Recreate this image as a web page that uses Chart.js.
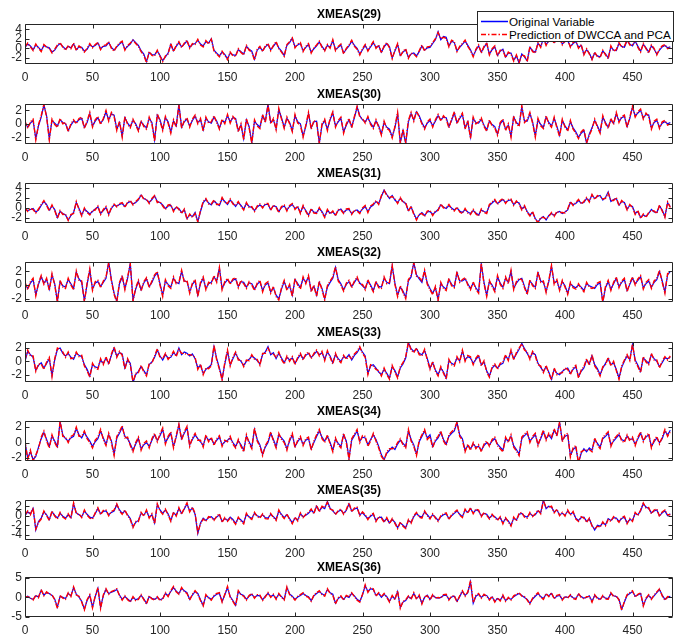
<!DOCTYPE html>
<html>
<head>
<meta charset="utf-8">
<script src="https://cdn.jsdelivr.net/npm/chart.js@4.4.1/dist/chart.umd.min.js"></script>
<style>
  body { margin: 0; background: #fff; width: 674px; height: 637px; overflow: hidden; position: relative; }
  .panel { position: absolute; left: 0; width: 674px; height: 84px; }
  #legend { position: absolute; left: 477px; top: 11px; width: 197px; height: 31px; box-sizing: border-box;
            background: #fff; border: 1px solid #262626; z-index: 5;
            font-family: "Liberation Sans", Arial, Helvetica, sans-serif; font-size: 11.7px; color: #000; }
  #legend svg { position: absolute; left: 0; top: 0; }
  #legend span { position: absolute; left: 31px; line-height: 13px; white-space: nowrap; }
</style>
</head>
<body>
<canvas class="panel" id="c0" width="674" height="84" style="top:0px"></canvas>
<canvas class="panel" id="c1" width="674" height="84" style="top:80px"></canvas>
<canvas class="panel" id="c2" width="674" height="84" style="top:159px"></canvas>
<canvas class="panel" id="c3" width="674" height="84" style="top:238px"></canvas>
<canvas class="panel" id="c4" width="674" height="84" style="top:318px"></canvas>
<canvas class="panel" id="c5" width="674" height="84" style="top:397px"></canvas>
<canvas class="panel" id="c6" width="674" height="84" style="top:476px"></canvas>
<canvas class="panel" id="c7" width="674" height="84" style="top:553px"></canvas>
<div id="legend">
  <svg width="197" height="31">
    <line x1="3" y1="9.5" x2="30" y2="9.5" stroke="#0000ff" stroke-width="1.5"/>
    <line x1="3" y1="22.5" x2="30" y2="22.5" stroke="#ff0000" stroke-width="1.5" stroke-dasharray="5 2 1.5 2"/>
  </svg>
  <span style="top:3px">Original Variable</span>
  <span style="top:16px">Prediction of DWCCA and PCA</span>
</div>
<script>
// samples read every 2 steps, x = 0, 2, 4, ... 478
const X_STEP = 2;
const X_MAX = 480;
const xTickValues = [0, 50, 100, 150, 200, 250, 300, 350, 400, 450];

const seriesNames = ["Original Variable", "Prediction of DWCCA and PCA"];
const panelTitles = ["XMEAS(29)", "XMEAS(30)", "XMEAS(31)", "XMEAS(32)", "XMEAS(33)", "XMEAS(34)", "XMEAS(35)", "XMEAS(36)"];

const yTicks29 = [-2, 0, 2, 4];
const yTicks30 = [-2, 0, 2];
const yTicks31 = [-2, 0, 2, 4];
const yTicks32 = [-2, 0, 2];
const yTicks33 = [-2, 0, 2];
const yTicks34 = [-2, 0, 2];
const yTicks35 = [-4, -2, 0, 2];
const yTicks36 = [-5, 0, 5];

const xmeas29Orig = [
  0.2, 0.9, 0.5, -0.3, 0.7, 0.2, -0.5, 0.6, 0.3, 0.1, -0.8, -0.4, 0.5, 1.0, 0.4, -0.2, 0.4, 0.1, 0.9, -0.3, 0.3, 0.2, -0.6, -0.2, 0.8, 0.3, 0.6, 1.1, -0.1, 0.4,
  0.5, 1.2, 0.2, -0.4, 0.3, 0.9, 1.3, -0.2, 0.4, 0.9, 1.8, 1.2, 0.6, -0.5, -1.2, -2.8, -0.9, -1.3, -1.4, -0.6, -1.5, -2.6, -1.8, -1.0, 0.8, -0.5, 0.4, 1.2, 0.3, 0.9,
  1.5, 0.2, 0.8, 1.0, 1.7, 0.9, 0.5, 1.4, 1.1, 2.0, -0.4, -1.0, -1.6, -0.8, -1.3, -2.2, -1.0, -1.4, -1.5, -0.3, -0.7, -1.2, 0.4, -0.2, -0.6, -2.3, -0.4, 0.2, -0.5, 0.3,
  0.8, -0.3, 0.4, 1.2, 0.1, -0.6, -1.5, 0.6, 1.2, 2.1, 0.3, 0.7, 1.0, -0.5, 0.2, 0.8, -0.8, -0.1, 0.5, 1.3, 0.4, -0.4, 0.6, 0.2, 1.6, -0.3, 0.2, 0.7, -1.0, -0.2,
  0.5, 1.5, 0.6, 0.0, -1.2, -0.3, 0.6, -0.4, 0.3, 1.2, 0.2, 0.5, -0.8, 0.3, 1.0, 0.3, -2.0, -0.6, 0.8, -1.5, -0.8, -0.3, -1.9, -1.2, -1.0, -1.6, -0.7, 0.5, -0.4, 0.1,
  0.2, 1.0, 1.8, 3.5, 1.8, 2.5, 2.3, 0.5, 1.5, 1.2, -0.5, 0.2, 0.8, 1.5, 0.6, -0.3, -1.6, -0.4, 0.5, -0.8, 0.2, 1.0, -1.2, -0.3, 0.3, -1.5, -0.6, -0.2, -1.8, -1.0,
  -1.0, -2.5, -1.6, -3.1, -1.2, -1.8, -2.6, 0.2, -0.5, -0.8, 1.0, 0.4, 2.0, 0.8, 1.5, 1.8, 1.2, 2.0, 2.2, 0.9, 1.4, 1.6, 0.4, 1.0, 1.4, 0.2, 0.6, -1.2, -0.3, -1.0,
  -2.3, -1.0, -1.6, -1.8, -0.6, -1.2, -2.0, 0.3, -0.4, -0.5, 1.0, 0.4, 0.2, 1.6, 0.9, 0.5, 1.5, 0.4, -0.6, 0.8, 0.1, -0.8, 0.5, -0.2, -1.2, -0.4, 0.3, 0.6, 0.1, 0.3
];
const xmeas29Pred = [
  0.3, 1.1, 0.3, -0.5, 0.9, 0.0, -0.7, 0.8, 0.2, 0.0, -1.0, -0.2, 0.7, 1.2, 0.2, -0.4, 0.6, -0.1, 1.1, -0.5, 0.5, 0.0, -0.8, 0.0, 1.0, 0.1, 0.8, 1.2, -0.3, 0.6,
  0.7, 1.4, 0.0, -0.6, 0.5, 1.1, 1.5, -0.4, 0.6, 1.1, 1.7, 1.0, 0.4, -0.7, -1.5, -3.0, -0.7, -1.5, -1.6, -0.4, -1.7, -2.8, -1.6, -1.2, 1.0, -0.7, 0.6, 1.4, 0.1, 1.1,
  1.7, 0.0, 1.0, 0.8, 1.9, 0.7, 0.3, 1.6, 0.9, 1.9, -0.6, -1.2, -1.8, -0.6, -1.5, -2.4, -0.8, -1.6, -1.7, -0.1, -0.9, -1.4, 0.6, -0.4, -0.8, -2.5, -0.2, 0.4, -0.7, 0.5,
  1.0, -0.5, 0.6, 1.4, -0.1, -0.8, -1.7, 0.8, 1.4, 2.2, 0.1, 0.9, 1.2, -0.7, 0.4, 1.0, -1.0, 0.1, 0.7, 1.5, 0.2, -0.6, 0.8, 0.0, 1.8, -0.5, 0.4, 0.9, -1.2, 0.0,
  0.7, 1.7, 0.4, -0.2, -1.4, -0.1, 0.8, -0.6, 0.5, 1.4, 0.0, 0.7, -1.0, 0.5, 1.2, 0.1, -2.2, -0.4, 1.0, -1.7, -0.6, -0.1, -2.1, -1.0, -1.2, -1.8, -0.5, 0.7, -0.6, 0.3,
  0.4, 1.2, 2.0, 3.3, 2.0, 2.3, 2.1, 0.3, 1.7, 1.4, -0.7, 0.4, 1.0, 1.7, 0.4, -0.5, -1.8, -0.2, 0.7, -1.0, 0.4, 1.2, -1.4, -0.1, 0.5, -1.7, -0.4, -0.4, -2.0, -0.8,
  -1.2, -2.7, -1.4, -3.0, -1.4, -1.6, -2.8, 0.4, -0.7, -1.0, 1.2, 0.2, 2.2, 0.6, 1.7, 2.0, 1.0, 2.2, 2.3, 0.7, 1.6, 1.8, 0.2, 1.2, 1.6, 0.0, 0.8, -1.4, -0.1, -1.2,
  -2.4, -0.8, -1.8, -2.0, -0.4, -1.4, -2.2, 0.5, -0.6, -0.3, 1.2, 0.2, 0.4, 1.8, 0.7, 0.7, 1.7, 0.2, -0.8, 1.0, -0.1, -1.0, 0.7, 0.0, -1.4, -0.2, 0.5, 0.8, -0.1, 0.1
];

const xmeas30Orig = [
  0.2, -0.5, 0.1, 0.5, -2.2, -0.3, 1.0, 2.8, 1.2, -2.2, 0.5, 0.1, -0.3, 0.6, 0.2, 0.0, -1.0, -0.2, 0.4, 0.2, 0.6, 0.8, -0.5, 0.2, 1.5, -0.3, 0.4, 0.9, 0.1, 0.6,
  1.8, 0.6, 1.5, 1.3, -0.8, 0.2, -1.8, 0.9, 0.1, -0.4, 0.5, 0.0, -0.9, 0.3, -0.2, -0.6, 0.8, 0.2, -2.4, 1.3, 0.6, -0.8, 0.9, 0.3, -1.2, 0.4, -0.3, 2.9, -0.5, 0.3,
  0.7, -0.3, 0.5, 1.1, 0.2, 0.6, -0.9, 0.8, 0.3, 0.1, 1.0, 0.4, -0.6, 0.5, 0.2, 1.2, 0.3, 0.9, 0.8, -1.0, -0.2, -2.2, 0.6, -0.4, -2.8, 0.4, -0.1, -0.5, 1.2, 0.4,
  2.9, 0.2, 0.6, -0.7, 2.1, 0.9, -0.5, 0.8, 0.2, -1.0, 1.2, 0.3, 0.0, -1.8, -0.4, 1.5, -0.6, 0.3, 0.4, -2.9, -0.2, 0.5, -0.8, 0.6, 1.6, -0.3, 0.3, 0.8, -1.2, -0.2,
  0.6, -0.4, 0.9, 2.5, 1.2, 0.6, 0.3, 0.9, 0.1, -0.5, 0.4, -0.3, -1.5, 0.2, -0.5, -0.8, -1.9, -0.6, 1.5, -2.8, -1.0, -2.9, 0.3, 1.5, 0.6, 1.8, 1.2, 0.2, -0.6, 0.1,
  0.5, -0.3, 0.4, 1.2, 0.6, 1.0, 0.9, -0.4, 0.5, 1.6, 0.2, 0.8, 1.4, -0.6, 0.3, -2.0, 0.8, 0.2, 0.1, 0.7, -0.2, -0.9, 0.4, -0.1, -0.4, -1.5, 0.0, 0.5, -0.8, -0.2,
  -1.8, 1.0, 0.2, -0.2, 2.5, 0.4, 0.4, 1.5, 0.3, -1.8, 0.6, -0.1, -0.5, 1.0, 0.2, -0.3, 0.8, -0.4, -1.7, 0.5, -0.3, -0.9, 0.3, -0.6, -1.2, -2.0, -1.4, -1.0, -2.9, -1.5,
  -0.6, 0.5, -0.3, -1.2, 1.0, 0.2, -0.5, 0.6, 0.1, 1.5, 0.4, 0.9, 1.1, -0.4, 0.8, 2.5, 1.2, 1.6, 2.0, 0.9, 1.4, 1.3, -0.6, 0.2, 0.5, -0.5, 0.1, 0.3, 0.0, 0.2
];
const xmeas30Pred = [
  0.4, -0.7, 0.3, 0.7, -2.4, -0.1, 1.2, 2.9, 1.0, -2.4, 0.7, -0.1, -0.5, 0.8, 0.0, 0.2, -1.2, 0.0, 0.6, 0.0, 0.8, 1.0, -0.7, 0.4, 1.7, -0.5, 0.6, 1.1, -0.1, 0.8,
  2.0, 0.4, 1.7, 1.1, -1.0, 0.4, -2.0, 1.1, -0.1, -0.6, 0.7, -0.2, -1.1, 0.5, -0.4, -0.8, 1.0, 0.0, -2.6, 1.5, 0.4, -1.0, 1.1, 0.1, -1.4, 0.6, -0.5, 2.8, -0.7, 0.5,
  0.9, -0.5, 0.7, 1.3, 0.0, 0.8, -1.1, 1.0, 0.1, 0.3, 1.2, 0.2, -0.8, 0.7, 0.0, 1.4, 0.1, 1.1, 0.6, -1.2, 0.0, -2.4, 0.8, -0.6, -2.9, 0.6, -0.3, -0.7, 1.4, 0.2,
  2.8, 0.0, 0.8, -0.9, 2.3, 0.7, -0.7, 1.0, 0.0, -1.2, 1.4, 0.1, -0.2, -2.0, -0.2, 1.7, -0.8, 0.5, 0.2, -2.9, 0.0, 0.7, -1.0, 0.8, 1.8, -0.5, 0.5, 1.0, -1.4, 0.0,
  0.8, -0.6, 1.1, 2.6, 1.0, 0.8, 0.1, 1.1, -0.1, -0.7, 0.6, -0.5, -1.7, 0.4, -0.7, -1.0, -2.1, -0.4, 1.7, -2.9, -0.8, -2.8, 0.5, 1.7, 0.4, 1.9, 1.0, 0.0, -0.8, 0.3,
  0.7, -0.5, 0.6, 1.4, 0.4, 1.2, 0.7, -0.6, 0.7, 1.8, 0.0, 1.0, 1.6, -0.8, 0.5, -2.2, 1.0, 0.0, 0.3, 0.9, -0.4, -1.1, 0.6, -0.3, -0.6, -1.7, 0.2, 0.7, -1.0, 0.0,
  -2.0, 1.2, 0.0, -0.4, 2.7, 0.2, 0.6, 1.7, 0.1, -2.0, 0.8, -0.3, -0.7, 1.2, 0.0, -0.5, 1.0, -0.6, -1.9, 0.7, -0.5, -1.1, 0.5, -0.8, -1.4, -2.2, -1.2, -0.8, -2.8, -1.7,
  -0.8, 0.7, -0.5, -1.4, 1.2, 0.0, -0.7, 0.8, -0.1, 1.7, 0.2, 1.1, 1.3, -0.6, 1.0, 2.6, 1.0, 1.8, 2.2, 0.7, 1.6, 1.1, -0.8, 0.4, 0.7, -0.7, 0.3, 0.5, -0.2, 0.0
];

const xmeas31Orig = [
  -0.3, -0.6, -0.4, -0.2, -0.9, -0.5, 0.4, 1.2, 0.6, -0.5, 0.3, -0.4, -2.0, -0.8, -1.2, -1.5, -2.5, -1.6, -1.0, 1.0, -0.2, -1.5, -0.3, -0.8, -1.3, -0.8, -0.3, 0.1, -1.2, -0.6,
  0.0, -1.3, -0.2, 0.5, 0.3, 0.6, 0.8, 0.2, 0.9, 1.2, 0.7, 1.0, 1.5, 2.5, 1.8, 1.5, 1.0, 1.6, 2.3, 1.2, 1.0, 0.5, -0.2, 0.3, 0.4, -0.6, 0.0, -0.2, -1.0, -0.5,
  -2.2, -1.5, -1.8, -1.0, -2.8, -0.8, 1.0, 1.6, 0.9, 0.5, 1.3, 0.8, 0.4, 1.8, 1.2, 0.6, 1.5, 0.9, 0.2, 1.0, 0.4, -0.3, 0.8, 0.2, 0.0, -0.6, 0.1, 0.5, 0.1, 0.6,
  0.6, -0.4, 0.3, 0.2, -0.8, 0.0, 0.3, -0.5, 0.2, 0.6, -0.2, 0.1, -1.0, 0.2, -0.6, -1.5, -0.4, -0.9, -1.0, -0.2, -0.8, -1.8, -0.6, -1.1, -0.9, -1.5, -0.6, -0.3, -1.0, -0.5,
  -0.4, -1.2, -0.7, -0.5, -1.0, -0.3, 0.2, -0.8, 0.1, 0.5, 1.2, 0.8, 2.2, 3.5, 2.6, 1.8, 2.4, 1.5, 1.0, 1.8, 1.2, 0.8, -0.6, 0.1, -1.2, -2.3, -1.5, -1.0, -1.6, -0.9,
  -0.8, -1.4, -0.9, -0.4, 0.5, 0.1, -0.2, 0.4, -0.1, -0.5, -0.1, -0.7, -1.0, -0.4, -0.9, -1.2, -0.6, -1.1, -1.5, -0.5, -0.8, -1.0, 0.4, 0.9, 1.4, 0.8, 1.2, 1.6, 1.0, 1.4,
  1.5, 0.6, 1.1, 0.9, -0.3, 0.2, -0.8, -1.5, -1.0, -2.2, -2.9, -2.2, -1.8, -2.5, -1.6, -1.2, -1.6, -1.0, -0.8, -1.2, -0.9, -0.5, 1.0, 0.6, 0.8, 1.4, 0.9, 1.0, 1.8, 1.3,
  2.5, 1.8, 2.2, 2.4, 1.5, 2.0, 3.1, 1.2, 1.6, 1.8, 0.5, 1.2, 1.0, -0.3, 0.4, 0.2, -1.2, -0.8, -2.0, -1.5, -1.8, -1.2, -0.4, -0.9, -1.0, 0.3, -0.5, -1.8, 0.9, 0.2
];
const xmeas31Pred = [
  -0.1, -0.8, -0.2, -0.4, -1.1, -0.3, 0.6, 1.4, 0.4, -0.7, 0.5, -0.6, -2.2, -0.6, -1.4, -1.3, -2.6, -1.4, -1.2, 1.2, -0.4, -1.7, -0.1, -1.0, -1.5, -0.6, -0.5, 0.3, -1.4, -0.4,
  0.2, -1.5, 0.0, 0.7, 0.1, 0.8, 1.0, 0.0, 1.1, 1.4, 0.5, 1.2, 1.7, 2.6, 1.6, 1.7, 0.8, 1.8, 2.4, 1.0, 1.2, 0.3, -0.4, 0.5, 0.6, -0.8, 0.2, -0.4, -1.2, -0.3,
  -2.4, -1.3, -2.0, -1.2, -2.9, -0.6, 1.2, 1.8, 0.7, 0.7, 1.5, 0.6, 0.6, 2.0, 1.0, 0.8, 1.7, 0.7, 0.4, 1.2, 0.2, -0.5, 1.0, 0.0, 0.2, -0.8, 0.3, 0.7, -0.1, 0.8,
  0.8, -0.6, 0.5, 0.0, -1.0, 0.2, 0.5, -0.7, 0.4, 0.8, -0.4, 0.3, -1.2, 0.4, -0.8, -1.7, -0.2, -1.1, -1.2, 0.0, -1.0, -2.0, -0.4, -1.3, -0.7, -1.7, -0.4, -0.5, -1.2, -0.3,
  -0.2, -1.4, -0.5, -0.7, -1.2, -0.1, 0.4, -1.0, 0.3, 0.7, 1.4, 0.6, 2.4, 3.4, 2.4, 2.0, 2.2, 1.7, 0.8, 2.0, 1.0, 1.0, -0.8, 0.3, -1.4, -2.5, -1.3, -1.2, -1.8, -0.7,
  -0.6, -1.6, -0.7, -0.6, 0.7, -0.1, 0.0, 0.6, -0.3, -0.7, 0.1, -0.9, -1.2, -0.2, -1.1, -1.4, -0.4, -1.3, -1.7, -0.3, -1.0, -1.2, 0.6, 1.1, 1.6, 0.6, 1.4, 1.8, 0.8, 1.6,
  1.7, 0.4, 1.3, 0.7, -0.5, 0.4, -1.0, -1.7, -0.8, -2.4, -3.0, -2.0, -2.0, -2.3, -1.8, -1.0, -1.8, -0.8, -1.0, -1.0, -1.1, -0.3, 1.2, 0.4, 1.0, 1.6, 0.7, 1.2, 2.0, 1.1,
  2.6, 1.6, 2.4, 2.2, 1.7, 1.8, 2.9, 1.4, 1.4, 2.0, 0.3, 1.4, 0.8, -0.5, 0.6, 0.0, -1.4, -0.6, -2.2, -1.3, -2.0, -1.0, -0.6, -0.7, -1.2, 0.5, -0.7, -2.0, 1.1, 0.0
];

const xmeas32Orig = [
  0.2, -0.5, 0.3, 0.8, -1.4, 0.1, 1.2, 0.3, 0.8, -0.6, 1.5, 0.2, -2.4, 0.5, -0.1, -0.3, 0.8, 0.2, -0.5, 1.9, 0.9, 0.4, -2.3, 0.1, 2.2, -0.6, 0.3, 0.5, -0.2, 0.4,
  1.0, 3.4, 0.8, -1.2, -2.4, 0.2, 1.2, -0.5, 1.0, 3.2, -2.2, -0.6, 0.5, -0.7, 0.3, 0.9, -0.2, 0.4, 1.3, 1.8, 0.2, -1.5, 0.6, 0.1, -0.3, 1.0, 0.4, 0.2, 2.0, 0.6,
  0.5, -1.0, 0.1, 0.6, -1.5, 0.2, 1.0, -0.5, 0.2, 0.4, 1.2, 0.6, 2.5, -0.5, 0.3, 0.8, 0.3, 0.7, 0.9, -0.2, 0.5, 0.4, -0.3, 0.3, 0.2, -0.6, 0.1, 0.5, -0.8, 0.0,
  0.3, -1.0, -0.4, -1.5, -2.0, -0.6, 0.5, -0.6, -0.1, -1.5, 0.8, 0.2, -0.4, 1.0, 0.4, 1.2, -0.8, -0.2, -1.5, 0.4, -0.5, -2.0, -0.3, 0.4, 1.0, 2.6, 0.8, 0.2, -0.7, 0.1,
  0.5, -0.2, 0.4, 1.0, 0.3, -0.1, -0.5, 0.6, 0.0, -0.8, 0.4, -0.2, -0.3, 1.0, 0.4, 0.2, 2.8, 0.3, -1.5, -0.3, -0.9, -1.8, 0.6, 1.2, 3.3, 1.5, 0.9, 0.4, 2.0, 0.3,
  -0.5, -1.2, -0.4, -2.1, 0.2, -0.3, -0.6, 0.8, 0.1, -0.2, 1.8, 0.6, 0.6, 0.9, 0.2, -0.5, 0.3, -0.4, -1.0, 3.1, 0.4, -1.5, 0.5, 0.0, -0.8, 1.2, 0.3, -0.3, 1.0, 0.4,
  2.0, -0.5, 0.3, 0.8, 1.0, -0.2, -1.2, 0.6, 0.1, -0.3, 1.8, 0.6, 0.4, -0.9, 0.5, 2.8, 0.3, 0.6, -0.6, 0.5, -0.1, -1.2, 0.2, -0.2, -0.4, 0.0, -0.3, -0.8, 0.2, -0.1,
  -0.3, -0.5, 0.1, 0.3, -2.5, -0.4, 0.5, -0.6, 0.2, 1.0, -0.2, 0.4, 0.8, -0.8, 0.1, 1.0, 0.2, 0.7, 1.2, -0.4, 0.2, 0.6, -0.3, 0.4, 0.8, 2.0, 0.6, -1.0, 1.5, 2.0
];
const xmeas32Pred = [
  0.4, -0.7, 0.5, 1.0, -1.6, 0.3, 1.4, 0.1, 1.0, -0.8, 1.7, 0.0, -2.5, 0.7, -0.3, -0.5, 1.0, 0.0, -0.7, 2.1, 0.7, 0.6, -2.5, 0.3, 2.4, -0.8, 0.5, 0.7, -0.4, 0.6,
  1.2, 3.3, 0.6, -1.4, -2.5, 0.4, 1.4, -0.7, 1.2, 3.1, -2.4, -0.4, 0.7, -0.9, 0.5, 1.1, -0.4, 0.6, 1.5, 2.0, 0.0, -1.7, 0.8, -0.1, -0.5, 1.2, 0.2, 0.4, 2.2, 0.4,
  0.7, -1.2, 0.3, 0.8, -1.7, 0.4, 1.2, -0.7, 0.4, 0.2, 1.4, 0.4, 2.6, -0.7, 0.5, 1.0, 0.1, 0.9, 1.1, -0.4, 0.7, 0.2, -0.5, 0.5, 0.0, -0.8, 0.3, 0.7, -1.0, 0.2,
  0.5, -1.2, -0.2, -1.7, -2.2, -0.4, 0.7, -0.8, 0.1, -1.7, 1.0, 0.0, -0.6, 1.2, 0.2, 1.4, -1.0, 0.0, -1.7, 0.6, -0.7, -2.2, -0.1, 0.6, 1.2, 2.7, 0.6, 0.0, -0.9, 0.3,
  0.7, -0.4, 0.6, 1.2, 0.1, 0.1, -0.7, 0.8, -0.2, -1.0, 0.6, -0.4, -0.5, 1.2, 0.2, 0.4, 2.9, 0.1, -1.7, -0.1, -1.1, -2.0, 0.8, 1.4, 3.3, 1.3, 1.1, 0.6, 2.2, 0.1,
  -0.7, -1.4, -0.2, -2.3, 0.4, -0.5, -0.8, 1.0, -0.1, -0.4, 2.0, 0.4, 0.8, 1.1, 0.0, -0.7, 0.5, -0.6, -1.2, 3.2, 0.2, -1.7, 0.7, -0.2, -1.0, 1.4, 0.1, -0.5, 1.2, 0.2,
  2.2, -0.7, 0.5, 1.0, 0.8, -0.4, -1.4, 0.8, -0.1, -0.5, 2.0, 0.4, 0.6, -1.1, 0.7, 2.9, 0.1, 0.8, -0.8, 0.7, -0.3, -1.4, 0.4, -0.4, -0.6, 0.2, -0.5, -1.0, 0.4, -0.3,
  -0.5, -0.3, 0.3, 0.5, -2.6, -0.2, 0.7, -0.8, 0.4, 1.2, -0.4, 0.6, 1.0, -1.0, 0.3, 1.2, 0.0, 0.9, 1.4, -0.6, 0.4, 0.8, -0.5, 0.6, 1.0, 2.2, 0.4, -1.2, 1.7, 1.8
];

const xmeas33Orig = [
  0.0, 1.5, 1.0, 0.6, -1.3, -0.6, -0.2, -1.0, -0.3, 0.4, -2.1, 0.2, 1.8, 2.0, 1.2, 0.8, 1.2, 0.6, 0.3, 1.2, 0.9, 0.7, -0.5, -1.2, -2.2, -0.5, -0.8, -1.0, 0.2, -0.3,
  0.5, -0.3, 0.9, 2.0, 0.8, 1.3, 1.1, -1.0, 0.2, -0.3, -3.2, -2.0, -1.5, -0.8, -1.4, -2.0, -0.5, -0.1, 0.6, 1.7, 0.8, 0.2, 1.0, 0.5, 0.6, 1.3, 0.9, 2.0, 1.0, 1.4,
  1.2, 0.8, 1.1, 0.4, -1.0, -0.6, -1.8, -1.2, -0.9, -0.5, 2.2, 0.4, -1.0, -2.6, -0.4, 1.5, -0.5, 0.4, 1.2, 0.4, 0.0, -0.6, 0.0, 0.3, 0.8, 0.5, 0.1, -0.4, 1.0, 1.4,
  2.2, 1.0, 1.3, 0.4, 1.2, 0.5, -0.2, 0.6, 0.2, 0.5, -0.3, 0.4, 1.0, 0.4, 0.9, 1.2, 0.6, 1.0, 1.5, 1.0, 1.3, 0.3, 1.4, 0.8, -0.2, 1.0, 0.4, 0.0, 0.7, 0.5,
  1.0, 0.2, 0.9, 1.3, 2.0, 1.4, 0.8, -1.8, -0.7, -0.5, -1.0, -1.6, -2.0, -1.2, -1.8, -2.5, -0.8, -1.4, -2.3, -1.0, -0.4, 0.5, 2.8, 1.9, 1.5, 1.9, 1.2, 1.0, 1.6, 0.4,
  -1.0, -0.2, -1.3, -2.0, -1.0, -1.6, -2.5, 0.1, -0.3, -0.5, 0.5, 0.1, 1.5, 0.2, 0.7, 0.5, -0.3, 0.3, 0.8, -0.5, -0.1, -1.4, -2.2, -1.0, -0.6, -1.0, -0.5, -0.3, 0.8, 0.3,
  1.5, 0.4, 1.1, 1.8, 2.7, 1.9, 1.2, 0.5, 1.3, 1.0, -0.3, -0.9, -1.5, -0.8, -1.6, -2.7, -1.2, -1.8, -2.0, -1.5, -1.2, -1.0, -1.8, -1.2, -0.8, -2.3, -1.5, -1.0, 0.2, -0.4,
  0.8, -0.5, -1.1, -2.0, -1.0, -0.3, 0.4, -0.5, -0.2, -1.2, -2.5, -0.9, 0.0, 0.8, 0.3, 2.5, 0.2, -0.6, -1.5, 0.5, 0.1, -0.3, 1.0, 0.4, 0.0, -0.8, -0.2, 0.5, 0.4, 0.6
];
const xmeas33Pred = [
  0.2, 1.7, 0.8, 0.8, -1.5, -0.4, -0.4, -1.2, -0.1, 0.6, -2.3, 0.4, 2.0, 1.8, 1.4, 0.6, 1.4, 0.4, 0.5, 1.4, 0.7, 0.9, -0.7, -1.4, -2.4, -0.3, -1.0, -1.2, 0.4, -0.5,
  0.7, -0.5, 1.1, 2.2, 0.6, 1.5, 0.9, -1.2, 0.4, -0.5, -3.1, -1.8, -1.7, -0.6, -1.6, -2.2, -0.3, -0.3, 0.8, 1.9, 0.6, 0.4, 1.2, 0.3, 0.8, 1.5, 0.7, 1.8, 1.2, 1.2,
  1.0, 1.0, 0.9, 0.6, -1.2, -0.4, -2.0, -1.0, -1.1, -0.7, 2.4, 0.2, -1.2, -2.8, -0.2, 1.7, -0.7, 0.6, 1.4, 0.2, 0.2, -0.8, 0.2, 0.1, 1.0, 0.3, 0.3, -0.6, 1.2, 1.2,
  2.0, 1.2, 1.1, 0.6, 1.4, 0.3, -0.4, 0.8, 0.0, 0.7, -0.5, 0.6, 1.2, 0.2, 1.1, 1.4, 0.4, 1.2, 1.7, 0.8, 1.5, 0.1, 1.6, 0.6, -0.4, 1.2, 0.2, -0.2, 0.9, 0.3,
  0.8, 0.4, 1.1, 1.5, 2.2, 1.2, 0.6, -2.0, -0.5, -0.7, -1.2, -1.4, -2.2, -1.0, -2.0, -2.7, -0.6, -1.6, -2.5, -0.8, -0.2, 0.7, 2.9, 1.7, 1.3, 2.0, 1.0, 0.8, 1.8, 0.2,
  -1.2, 0.0, -1.5, -2.2, -0.8, -1.8, -2.7, 0.3, -0.5, -0.7, 0.7, -0.1, 1.7, 0.0, 0.9, 0.7, -0.5, 0.5, 1.0, -0.7, 0.1, -1.6, -2.4, -0.8, -0.4, -1.2, -0.3, -0.1, 1.0, 0.1,
  1.7, 0.2, 1.3, 2.0, 2.6, 1.7, 1.4, 0.3, 1.5, 0.8, -0.5, -0.7, -1.7, -0.6, -1.8, -2.8, -1.0, -2.0, -1.8, -1.7, -1.0, -1.2, -2.0, -1.0, -0.6, -2.5, -1.3, -0.8, 0.4, -0.6,
  1.0, -0.7, -1.3, -2.2, -0.8, -0.5, 0.6, -0.7, 0.0, -1.4, -2.7, -0.7, 0.2, 1.0, 0.1, 2.6, 0.0, -0.8, -1.7, 0.7, -0.1, -0.5, 1.2, 0.2, 0.2, -1.0, 0.0, 0.7, 0.2, 0.8
];

const xmeas34Orig = [
  0.0, -2.0, -1.2, -2.2, -1.8, -0.6, 0.5, 1.3, 0.4, -0.5, 0.8, 0.2, -0.5, 2.7, 1.0, 0.5, 0.2, 0.6, 0.8, 1.8, 1.0, 0.6, 1.3, 0.7, 0.2, -0.5, 0.1, 0.5, 1.5, 0.6,
  -0.2, 1.0, 0.2, -1.5, 0.6, 1.2, 2.0, 0.8, 0.5, -0.2, -1.0, -0.2, 0.5, -0.8, -0.3, 0.0, -0.5, 0.3, 1.0, 0.3, 0.9, 1.7, 0.0, 0.6, 1.2, -0.5, 0.7, 2.3, 0.5, 1.2,
  1.9, -0.3, 0.4, 1.0, 0.5, 0.1, -0.4, 0.8, 0.3, 0.5, -0.2, 0.3, 0.7, -0.3, 0.1, 0.3, 0.6, 0.0, -0.5, 0.2, -0.3, -1.0, 0.8, 0.1, -0.6, 1.7, 0.4, -0.3, -1.5, -0.6,
  0.0, 1.2, 0.4, -0.5, 1.0, 0.6, 0.2, -0.8, 0.2, 1.0, -0.5, 0.1, 0.6, -0.2, 0.3, 0.5, -0.8, 0.0, 0.8, 1.5, 0.7, 0.2, 0.8, 0.0, -1.0, 0.4, -0.1, -0.5, 1.0, 0.2,
  -2.0, 0.3, 0.9, 1.5, 0.2, 0.7, 0.6, -0.3, 0.4, 1.0, 0.4, -0.5, -1.6, -2.2, -1.4, -1.0, -0.6, -0.9, -0.2, 0.3, -0.1, -0.5, 1.5, 0.4, -0.3, -1.5, 0.1, 0.8, 1.5, 0.6,
  1.0, -0.5, 0.2, 0.6, 1.3, 0.4, -0.2, 0.8, 1.2, 1.5, 2.6, 1.0, 0.5, -1.0, -0.4, -0.8, -0.2, -0.6, -0.5, -1.0, -0.4, 0.0, -0.3, 0.2, 0.5, -0.2, -0.6, -1.0, 0.5, 0.2,
  0.8, -0.4, -0.9, -1.5, 0.5, 0.9, 1.2, 0.2, 0.6, 1.0, -0.2, 0.5, 1.4, 0.5, 1.0, 0.5, 1.6, 1.0, 2.6, 0.3, 0.8, 1.0, -1.7, -0.9, -0.6, -2.6, -1.4, -0.8, -1.2, -0.7,
  -1.0, 0.4, -0.1, -0.6, 0.5, 0.8, 1.2, -0.3, 0.2, 0.6, 1.0, 0.4, 0.2, 0.8, 0.4, 0.5, -0.2, 0.5, 1.2, 0.3, 0.7, 1.0, -0.5, 0.1, 0.6, 0.0, 0.5, 1.5, 1.0, 1.6
];
const xmeas34Pred = [
  0.2, -2.2, -1.0, -2.4, -1.6, -0.8, 0.7, 1.5, 0.2, -0.7, 1.0, 0.0, -0.7, 2.8, 0.8, 0.7, 0.0, 0.8, 1.0, 2.0, 0.8, 0.8, 1.5, 0.5, 0.0, -0.7, 0.3, 0.7, 1.7, 0.4,
  -0.4, 1.2, 0.0, -1.7, 0.8, 1.4, 2.2, 0.6, 0.7, -0.4, -1.2, 0.0, 0.7, -1.0, -0.1, 0.2, -0.7, 0.5, 1.2, 0.1, 1.1, 1.9, -0.2, 0.8, 1.4, -0.7, 0.9, 2.4, 0.3, 1.4,
  2.1, -0.5, 0.6, 1.2, 0.3, 0.3, -0.6, 1.0, 0.1, 0.7, -0.4, 0.5, 0.9, -0.5, 0.3, 0.1, 0.8, -0.2, -0.7, 0.4, -0.5, -1.2, 1.0, -0.1, -0.8, 1.9, 0.2, -0.5, -1.7, -0.4,
  0.2, 1.4, 0.2, -0.7, 1.2, 0.4, 0.0, -1.0, 0.4, 1.2, -0.7, 0.3, 0.8, -0.4, 0.5, 0.7, -1.0, 0.2, 1.0, 1.7, 0.5, 0.0, 1.0, -0.2, -1.2, 0.6, -0.3, -0.7, 1.2, 0.0,
  -2.2, 0.5, 1.1, 1.7, 0.0, 0.9, 0.8, -0.5, 0.2, 1.2, 0.2, -0.7, -1.8, -2.3, -1.2, -0.8, -0.8, -0.7, 0.0, 0.5, -0.3, -0.7, 1.7, 0.2, -0.5, -1.7, 0.3, 1.0, 1.7, 0.4,
  0.8, -0.7, 0.4, 0.8, 1.5, 0.2, -0.4, 1.0, 1.4, 1.7, 2.7, 0.8, 0.3, -1.2, -0.2, -1.0, 0.0, -0.8, -0.3, -1.2, -0.2, 0.2, -0.5, 0.4, 0.7, -0.4, -0.8, -1.2, 0.7, 0.0,
  1.0, -0.6, -1.1, -1.7, 0.7, 1.1, 1.4, 0.0, 0.8, 1.2, -0.4, 0.7, 1.6, 0.3, 1.2, 0.7, 1.8, 0.8, 2.7, 0.1, 1.0, 1.2, -1.9, -0.7, -0.4, -2.7, -1.2, -1.0, -1.0, -0.9,
  -1.2, 0.6, -0.3, -0.8, 0.7, 1.0, 1.4, -0.5, 0.4, 0.8, 1.2, 0.2, 0.0, 1.0, 0.2, 0.7, -0.4, 0.7, 1.4, 0.1, 0.9, 1.2, -0.7, 0.3, 0.8, -0.2, 0.7, 1.7, 0.8, 1.4
];

const xmeas35Orig = [
  0.0, 0.8, 0.4, 1.5, -3.0, -1.2, -0.5, 0.8, 0.2, -0.8, 0.8, 0.1, -0.5, 0.5, -0.1, -0.5, 0.2, -0.4, 2.5, 0.6, 0.2, -0.2, 1.0, 0.3, -0.3, -0.5, 0.4, 1.5, 0.4, 0.9,
  1.0, 0.2, 0.7, 1.0, 2.3, 1.2, 0.5, 1.0, 0.2, -0.6, -2.3, -1.4, -1.0, 0.5, 0.1, 1.0, -0.3, 0.2, -1.5, 2.3, 1.2, 0.5, 1.2, 0.4, -1.0, 0.6, 0.1, 1.5, 0.5, 1.4,
  2.5, 1.0, 1.6, 0.3, -3.7, -1.5, -0.5, -1.0, -0.4, -0.2, -0.8, -0.3, 0.2, -1.2, -0.6, -1.0, -0.3, -0.8, -1.6, -0.5, -0.9, -1.5, 0.3, -0.2, -0.6, 0.5, 0.0, -0.3, 0.2, -0.4,
  -0.5, 0.3, -0.2, -0.8, 1.0, 0.3, -0.4, 0.2, -0.6, -1.5, -0.5, -0.9, 0.4, -0.2, 0.1, 0.5, 1.2, 0.6, 2.0, 1.0, 1.8, 1.5, 3.0, 1.6, 1.0, 0.4, 0.9, 1.2, 0.5, 1.1,
  2.5, 1.0, 1.4, 1.6, 0.2, 0.6, 0.0, -0.6, -0.1, 0.3, -1.0, -0.4, -0.3, -1.2, -0.6, -1.5, -0.8, -1.4, -2.5, -1.5, -2.0, -2.5, -1.0, -1.4, -0.2, 0.5, -0.1, -0.3, 0.8, 0.2,
  -0.5, 0.2, -0.3, -1.0, -0.2, 0.2, 0.4, -0.6, 0.0, 0.5, 1.0, 0.3, -0.2, 1.2, 0.7, 1.5, 0.6, 1.2, 1.0, 0.0, 0.5, 0.3, -0.5, 0.1, -0.2, -0.8, -0.4, -1.5, -0.6, -1.1,
  -2.0, -0.5, -0.9, 0.3, 0.5, -0.1, -0.3, 0.5, 0.0, 0.2, 1.0, 0.6, 3.3, 1.5, 2.0, 1.8, 0.8, 1.2, 0.2, 0.5, 0.1, 1.0, 0.3, 0.7, -0.5, -1.0, -0.4, -0.3, -1.2, -0.7,
  -2.0, -3.0, -2.0, -2.2, -1.5, -1.9, -0.6, -1.0, -0.4, -0.5, -1.2, -0.6, -0.3, -1.5, -0.8, -1.0, 0.5, 0.2, 1.0, 2.5, 1.8, 1.5, 0.6, 1.0, 1.2, 0.0, 0.6, 1.0, 0.0, 0.4
];
const xmeas35Pred = [
  0.2, 1.0, 0.2, 1.7, -2.8, -1.4, -0.7, 1.0, 0.0, -1.0, 1.0, -0.1, -0.7, 0.7, -0.3, -0.7, 0.4, -0.6, 2.7, 0.4, 0.4, -0.4, 1.2, 0.1, -0.5, -0.7, 0.6, 1.7, 0.2, 1.1,
  1.2, 0.0, 0.9, 1.2, 2.5, 1.0, 0.3, 1.2, 0.0, -0.8, -2.5, -1.2, -1.2, 0.7, -0.1, 1.2, -0.5, 0.4, -1.7, 2.5, 1.0, 0.3, 1.4, 0.2, -1.2, 0.8, -0.1, 1.7, 0.3, 1.6,
  2.7, 0.8, 1.8, 0.5, -3.5, -1.7, -0.7, -1.2, -0.2, -0.4, -1.0, -0.1, 0.4, -1.4, -0.4, -1.2, -0.5, -1.0, -1.8, -0.3, -1.1, -1.7, 0.5, -0.4, -0.8, 0.7, -0.2, -0.5, 0.4, -0.6,
  -0.7, 0.5, -0.4, -1.0, 1.2, 0.1, -0.6, 0.4, -0.8, -1.7, -0.3, -1.1, 0.6, -0.4, 0.3, 0.7, 1.4, 0.4, 2.2, 0.8, 2.0, 1.7, 2.8, 1.4, 1.2, 0.2, 1.1, 1.4, 0.3, 1.3,
  2.7, 0.8, 1.6, 1.8, 0.0, 0.8, 0.2, -0.8, 0.1, 0.5, -1.2, -0.2, -0.5, -1.4, -0.4, -1.7, -0.6, -1.6, -2.7, -1.3, -2.2, -2.7, -0.8, -1.6, 0.0, 0.7, -0.3, -0.5, 1.0, 0.0,
  -0.7, 0.4, -0.5, -1.2, 0.0, 0.4, 0.6, -0.8, 0.2, 0.7, 1.2, 0.1, -0.4, 1.4, 0.5, 1.7, 0.4, 1.4, 1.2, -0.2, 0.7, 0.1, -0.7, 0.3, -0.4, -1.0, -0.2, -1.7, -0.4, -1.3,
  -2.2, -0.3, -1.1, 0.5, 0.7, -0.3, -0.5, 0.7, -0.2, 0.4, 1.2, 0.4, 3.1, 1.7, 1.8, 2.0, 0.6, 1.4, 0.0, 0.7, -0.1, 1.2, 0.1, 0.9, -0.7, -1.2, -0.2, -0.5, -1.4, -0.5,
  -2.2, -2.8, -2.2, -2.4, -1.3, -2.1, -0.8, -1.2, -0.2, -0.7, -1.4, -0.4, -0.1, -1.7, -0.6, -1.2, 0.7, 0.0, 1.2, 2.7, 1.6, 1.7, 0.4, 1.2, 1.4, -0.2, 0.8, 1.2, 0.2, 0.2
];

const xmeas36Orig = [
  0.0, 0.3, -0.2, -0.5, 0.4, 0.1, 1.8, 0.6, 1.2, 1.0, 0.5, -0.4, -2.5, 0.3, 0.0, -0.3, 1.0, 0.4, 2.5, 0.8, 0.1, -1.0, -3.0, -0.8, 0.5, -2.5, 0.2, 2.3, -2.5, 0.4,
  2.0, 1.0, 1.3, 1.6, 2.0, 0.6, -0.5, 0.2, -0.4, -1.0, 0.0, -0.6, -0.3, 0.5, -0.4, -1.5, 0.2, -0.2, -0.5, 0.0, -0.6, -0.3, 1.0, 0.4, 1.5, 2.5, 1.6, 1.0, 2.3, 1.7,
  1.2, -0.5, 0.6, 1.5, 1.0, -0.6, -2.0, 0.5, 0.0, -0.5, 0.3, 0.8, 1.0, -1.0, 0.6, 2.5, 0.2, -0.8, -2.0, 1.5, 0.8, 0.5, -0.5, 0.3, 0.8, 0.0, 0.5, 0.4, -0.6, 0.3,
  1.0, 0.2, 0.6, -0.3, 0.8, 0.2, -0.5, 2.5, 0.9, 0.3, -0.5, 0.1, 0.5, 1.0, 0.5, 0.2, -0.8, 0.4, 1.0, 1.5, 0.9, 0.5, 2.0, 1.2, 0.8, -1.5, -0.3, 0.2, -0.5, 0.3,
  0.0, 1.0, 0.4, -0.5, -1.0, 0.6, 3.0, 1.5, 2.2, 2.0, 0.5, 1.0, 0.0, 0.8, 0.2, -1.0, 0.3, -0.4, 1.5, -2.5, -1.2, -0.8, 0.2, -0.3, 1.0, -0.3, 0.4, -1.5, 0.0, 0.6,
  -0.5, 0.5, 0.0, -0.2, 0.0, 0.5, 0.6, -0.5, 0.1, 0.3, -1.0, 0.2, 1.5, 0.5, 1.2, 4.0, -1.5, 0.3, 0.8, 0.0, 0.6, 0.5, -0.5, 0.1, -1.0, -0.3, -0.7, 0.4, -0.8, -0.2,
  -0.5, 0.2, 0.6, 1.0, 0.5, 0.0, -0.5, -1.5, -0.4, 0.3, 1.0, 0.2, -0.3, 0.8, 0.4, 1.0, -0.2, 0.3, 0.5, -0.5, 0.1, 0.0, 0.5, -0.1, -0.3, 0.8, 0.2, -0.2, 0.0, 0.4,
  -1.0, 0.5, -0.1, -0.5, 0.3, -0.2, -0.3, 1.0, 0.4, 0.2, -0.5, -3.0, -1.2, 0.5, 1.0, 1.5, 0.3, 0.6, 1.0, -2.0, -0.4, 0.5, -0.3, 0.4, 1.2, 2.0, 0.6, -0.5, 0.0, 0.3
];
const xmeas36Pred = [
  0.2, 0.1, 0.0, -0.7, 0.6, -0.1, 2.0, 0.4, 1.4, 0.8, 0.7, -0.6, -2.8, 0.5, -0.2, -0.5, 1.2, 0.2, 2.7, 0.6, 0.3, -1.2, -3.2, -0.6, 0.7, -2.7, 0.4, 2.5, -2.8, 0.6,
  2.2, 0.8, 1.5, 1.8, 2.2, 0.4, -0.7, 0.4, -0.6, -1.2, 0.2, -0.8, -0.5, 0.7, -0.6, -1.7, 0.4, -0.4, -0.7, 0.2, -0.8, -0.5, 1.2, 0.2, 1.7, 2.8, 1.4, 0.8, 2.5, 1.5,
  1.0, -0.7, 0.8, 1.7, 0.8, -0.8, -2.2, 0.7, -0.2, -0.7, 0.5, 1.0, 1.2, -1.2, 0.8, 2.8, 0.0, -1.0, -2.2, 1.7, 0.6, 0.3, -0.7, 0.5, 1.0, -0.2, 0.7, 0.6, -0.8, 0.1,
  1.2, 0.0, 0.8, -0.5, 1.0, 0.0, -0.7, 2.7, 0.7, 0.1, -0.7, 0.3, 0.7, 1.2, 0.3, 0.0, -1.0, 0.6, 1.2, 1.7, 0.7, 0.3, 2.2, 1.0, 0.6, -1.7, -0.1, 0.4, -0.7, 0.5,
  0.2, 1.2, 0.2, -0.7, -1.2, 0.8, 3.2, 1.3, 2.4, 2.2, 0.3, 1.2, 0.2, 1.0, 0.0, -1.2, 0.5, -0.6, 1.7, -2.8, -1.0, -0.6, 0.4, -0.5, 1.2, -0.5, 0.6, -1.7, 0.2, 0.4,
  -0.7, 0.7, -0.2, 0.0, -0.2, 0.7, 0.8, -0.7, 0.3, 0.5, -1.2, 0.4, 1.7, 0.3, 1.4, 4.3, -1.3, 0.5, 1.0, -0.2, 0.8, 0.3, -0.7, 0.3, -1.2, -0.1, -0.9, 0.6, -1.0, 0.0,
  -0.7, 0.4, 0.8, 1.2, 0.3, 0.2, -0.7, -1.7, -0.2, 0.5, 1.2, 0.0, -0.5, 1.0, 0.2, 1.2, -0.4, 0.5, 0.7, -0.7, 0.3, -0.2, 0.7, -0.3, -0.5, 1.0, 0.0, -0.4, 0.2, 0.2,
  -1.2, 0.7, -0.3, -0.7, 0.5, -0.4, -0.5, 1.2, 0.2, 0.4, -0.7, -3.3, -1.0, 0.7, 1.2, 1.7, 0.1, 0.8, 1.2, -2.2, -0.2, 0.7, -0.5, 0.6, 1.4, 2.2, 0.4, -0.7, 0.2, 0.1
];

const FONT = '"Liberation Sans", Arial, Helvetica, sans-serif';
const AXIS_COLOR = '#262626';

const panels = [
  { title: panelTitles[0], orig: xmeas29Orig, pred: xmeas29Pred, ticks: yTicks29, min: -3.3, max: 5.1 },
  { title: panelTitles[1], orig: xmeas30Orig, pred: xmeas30Pred, ticks: yTicks30, min: -3.0, max: 2.95 },
  { title: panelTitles[2], orig: xmeas31Orig, pred: xmeas31Pred, ticks: yTicks31, min: -3.1, max: 4.9 },
  { title: panelTitles[3], orig: xmeas32Orig, pred: xmeas32Pred, ticks: yTicks32, min: -2.5, max: 3.4 },
  { title: panelTitles[4], orig: xmeas33Orig, pred: xmeas33Pred, ticks: yTicks33, min: -3.1, max: 2.9 },
  { title: panelTitles[5], orig: xmeas34Orig, pred: xmeas34Pred, ticks: yTicks34, min: -2.4, max: 2.8 },
  { title: panelTitles[6], orig: xmeas35Orig, pred: xmeas35Pred, ticks: yTicks35, min: -5.1, max: 3.3 },
  { title: panelTitles[7], orig: xmeas36Orig, pred: xmeas36Pred, ticks: yTicks36, min: -5.0, max: 5.2 }
];

// matlab style box with inward tick marks
const boxPlugin = {
  id: 'matlabBox',
  afterDatasetsDraw(chart) {
    const { ctx, chartArea: a, scales: { x, y } } = chart;
    const L = Math.round(a.left) + 0.5, R = Math.round(a.right) - 0.5;
    const T = Math.round(a.top) + 0.5, B = Math.round(a.bottom) - 0.5;
    ctx.save();
    ctx.strokeStyle = AXIS_COLOR;
    ctx.lineWidth = 1;
    ctx.beginPath();
    ctx.rect(L, T, R - L, B - T);
    x.ticks.forEach(t => {
      const px = Math.round(x.getPixelForValue(t.value)) + 0.5;
      ctx.moveTo(px, B); ctx.lineTo(px, B - 4);
      ctx.moveTo(px, T); ctx.lineTo(px, T + 4);
    });
    y.ticks.forEach(t => {
      const py = Math.round(y.getPixelForValue(t.value)) + 0.5;
      ctx.moveTo(L, py); ctx.lineTo(L + 4, py);
      ctx.moveTo(R, py); ctx.lineTo(R - 4, py);
    });
    ctx.stroke();
    ctx.restore();
  }
};

const toPoints = arr => arr.map((v, i) => ({ x: i * X_STEP, y: v }));

panels.forEach((p, idx) => {
  new Chart(document.getElementById('c' + idx), {
    type: 'line',
    data: {
      datasets: [
        {
          label: seriesNames[1],
          data: toPoints(p.pred),
          borderColor: '#ff0000',
          borderWidth: 1.4,
          borderDash: [5, 1.5, 1.2, 1.5],
          pointRadius: 0,
          tension: 0,
          order: 0
        },
        {
          label: seriesNames[0],
          data: toPoints(p.orig),
          borderColor: '#0000ff',
          borderWidth: 1.2,
          pointRadius: 0,
          tension: 0,
          order: 1
        }
      ]
    },
    options: {
      responsive: false,
      animation: false,
      layout: { padding: { left: 0, right: 1, top: 0, bottom: 0 } },
      plugins: {
        legend: { display: false },
        tooltip: { enabled: false },
        title: {
          display: true,
          text: p.title,
          fullSize: false,
          color: '#000',
          font: { family: FONT, size: 12, weight: 'bold' },
          padding: { top: 7, bottom: 2.6 }
        }
      },
      scales: {
        x: {
          type: 'linear',
          min: 0,
          max: X_MAX,
          grid: { display: false, drawTicks: false },
          border: { display: false },
          afterBuildTicks: s => { s.ticks = xTickValues.map(v => ({ value: v })); },
          afterFit: s => { s.height = 20; },
          ticks: { autoSkip: false, maxRotation: 0, padding: 6, color: AXIS_COLOR, font: { family: FONT, size: 12 } }
        },
        y: {
          type: 'linear',
          min: p.min,
          max: p.max,
          grid: { display: false, drawTicks: false },
          border: { display: false },
          afterBuildTicks: s => { s.ticks = p.ticks.map(v => ({ value: v })); },
          afterFit: s => { s.width = 25; },
          ticks: { autoSkip: false, padding: 3, color: AXIS_COLOR, font: { family: FONT, size: 12 } }
        }
      }
    },
    plugins: [boxPlugin]
  });
});
</script>
</body>
</html>
